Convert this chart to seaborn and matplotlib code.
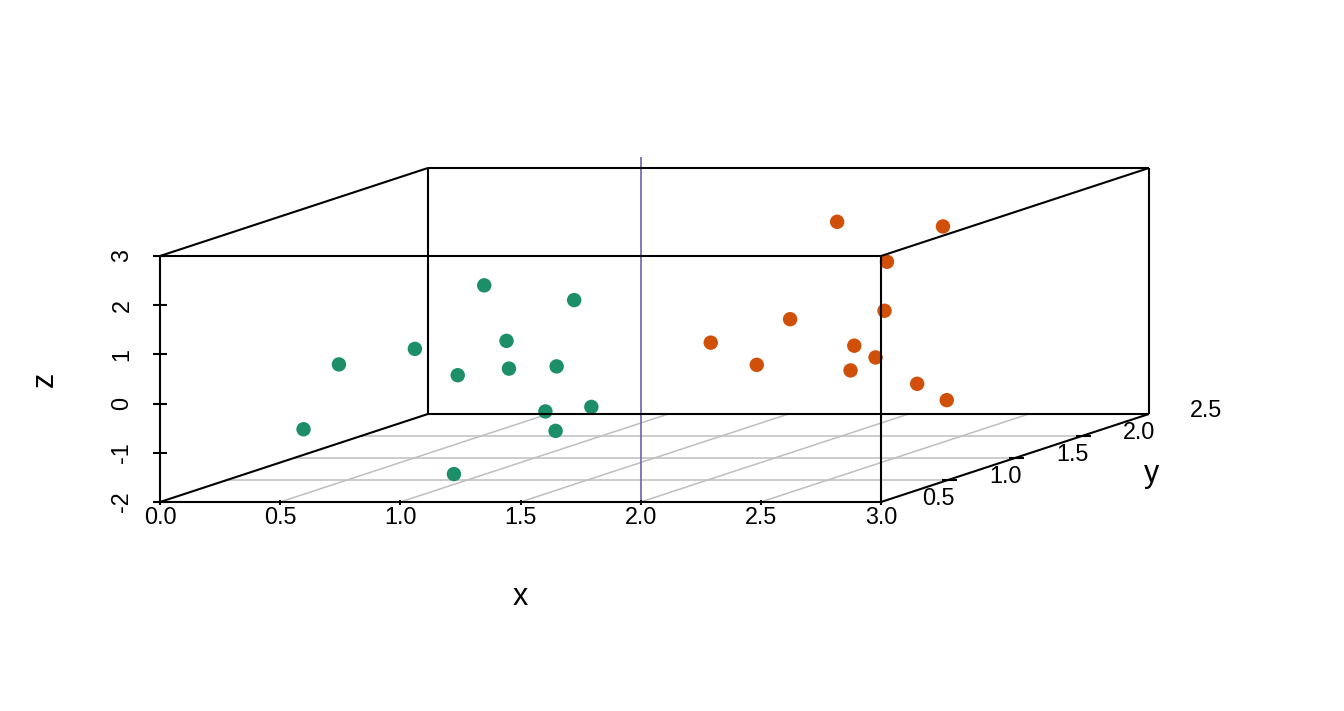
import matplotlib
matplotlib.use("Agg")
import matplotlib.pyplot as plt
import seaborn as sns
import pandas as pd

# data (3d coordinates)
x_green = [0.43, 0.41, 0.28, 0.68, 0.94, 0.96, 0.56, 1.00, 1.11, 1.26, 0.60, 1.07, 1.20]
y_green = [0.3, 0.6, 1.4, 1.2, 0.9, 0.5, 1.6, 0.4, 1.1, 0.7, 1.8, 1.3, 0.8]
z_green = [-0.79, 0.26, -0.14, 1.33, 0.47, 0.13, -0.72, -1.79, 1.12, 0.13, -1.77, -1.23, -1.27]

x_orange = [2.26, 2.31, 2.30, 2.68, 2.12, 2.18, 2.26, 2.61, 2.81, 2.26, 2.37, 2.27]
y_orange = [1.0, 1.7, 1.3, 0.6, 0.9, 0.2, 0.4, 0.5, 0.3, 1.1, 1.4, 1.8]
z_orange = [2.80, 2.08, 1.72, 1.35, 0.91, 1.06, 0.43, 0.73, 0.67, -0.31, -0.85, -1.54]

x_ticks = [0.0, 0.5, 1.0, 1.5, 2.0, 2.5, 3.0]
y_ticks = [0.5, 1.0, 1.5]
y_tick_labels = ["0.5", "1.0", "1.5", "2.0", "2.5"]
z_ticks = [-2, -1, 0, 1, 2, 3]
boundary_x = 2.0

xlim = (0, 3)
ylim = (0, 2)
zlim = (-2, 3)

# oblique projection like scatterplot3d (angle ~ 40 deg)
DX = 1.115   # horizontal shift of the full y range, in x units
DZ = 1.789   # vertical shift of the full y range, in z units


def proj(x, y, z):
    f = (y - ylim[0]) / (ylim[1] - ylim[0])
    return x + f * DX, z + f * DZ


sns.set_style("white")
plt.rcParams['font.family'] = ['Liberation Sans', 'DejaVu Sans']
plt.rcParams['text.color'] = 'black'

fig = plt.figure(figsize=(13.44, 7.11), dpi=100)
ax = fig.add_axes([160 / 1344, (711 - 502) / 711, 989 / 1344, 345 / 711])

grid_kw = dict(color='#BEBEBE', lw=1.1, zorder=1, solid_capstyle='butt')
box_kw = dict(color='black', lw=1.5, zorder=3, solid_capstyle='butt', clip_on=False)

# floor grid
for yv in y_ticks:
    p0 = proj(xlim[0], yv, zlim[0])
    p1 = proj(xlim[1], yv, zlim[0])
    ax.plot([p0[0], p1[0]], [p0[1], p1[1]], **grid_kw)
for xv in x_ticks[1:-1]:
    p0 = proj(xv, ylim[0], zlim[0])
    p1 = proj(xv, ylim[1], zlim[0])
    ax.plot([p0[0], p1[0]], [p0[1], p1[1]], **grid_kw)

# points
df = pd.DataFrame({
    'x': x_green + x_orange,
    'y': y_green + y_orange,
    'z': z_green + z_orange,
    'group': ['a'] * len(x_green) + ['b'] * len(x_orange),
})
df['px'], df['pz'] = proj(df['x'], df['y'], df['z'])
sns.scatterplot(data=df, x='px', y='pz', hue='group',
                palette={'a': '#1D8F68', 'b': '#D0500A'},
                s=108, linewidth=0, legend=False, ax=ax, zorder=2)
ax.set_xlim(xlim[0], xlim[1] + DX)
ax.set_ylim(zlim[0], zlim[0] + 345 / 49.2)
ax.axis('off')

# separating line
ax.axvline(proj(boundary_x, ylim[0], zlim[0])[0], color='#7570B3', lw=1.3, zorder=2)

# box
edges = [
    ((xlim[0], ylim[0], zlim[0]), (xlim[1], ylim[0], zlim[0])),
    ((xlim[0], ylim[0], zlim[1]), (xlim[1], ylim[0], zlim[1])),
    ((xlim[0], ylim[0], zlim[0]), (xlim[0], ylim[0], zlim[1])),
    ((xlim[1], ylim[0], zlim[0]), (xlim[1], ylim[0], zlim[1])),
    ((xlim[0], ylim[1], zlim[0]), (xlim[1], ylim[1], zlim[0])),
    ((xlim[0], ylim[1], zlim[1]), (xlim[1], ylim[1], zlim[1])),
    ((xlim[0], ylim[1], zlim[0]), (xlim[0], ylim[1], zlim[1])),
    ((xlim[1], ylim[1], zlim[0]), (xlim[1], ylim[1], zlim[1])),
    ((xlim[0], ylim[0], zlim[0]), (xlim[0], ylim[1], zlim[0])),
    ((xlim[1], ylim[0], zlim[0]), (xlim[1], ylim[1], zlim[0])),
    ((xlim[0], ylim[0], zlim[1]), (xlim[0], ylim[1], zlim[1])),
    ((xlim[1], ylim[0], zlim[1]), (xlim[1], ylim[1], zlim[1])),
]
for a, b in edges:
    pa, pb = proj(*a), proj(*b)
    ax.plot([pa[0], pb[0]], [pa[1], pb[1]], **box_kw)

px_x = 1 / 240.33   # one pixel in x units
px_z = 1 / 49.2     # one pixel in z units
tick_fs = 16.8
lab_fs = 22

# x axis ticks and labels
for xv in x_ticks:
    bx, bz = proj(xv, ylim[0], zlim[0])
    ax.plot([bx, bx], [bz + 2 * px_z, bz - 3 * px_z], **box_kw)
    ax.text(bx, bz - 16 * px_z, f"{xv:.1f}", ha='center', va='center', fontsize=tick_fs)
ax.text(proj(1.5, 0, zlim[0])[0], zlim[0] - 95 * px_z, "x", ha='center', va='center', fontsize=lab_fs)

# z axis ticks and labels
for zv in z_ticks:
    bx, bz = proj(xlim[0], ylim[0], zv)
    ax.plot([bx - 7 * px_x, bx + 7 * px_x], [bz, bz], **box_kw)
    ax.text(bx - 38 * px_x, bz, str(zv), ha='center', va='center', rotation=90, fontsize=tick_fs)
ax.text(xlim[0] - 115 * px_x, (zlim[0] + zlim[1]) / 2, "z", ha='center', va='center',
        rotation=90, fontsize=lab_fs)

# y axis ticks and labels
for yv in y_ticks:
    bx, bz = proj(xlim[1], yv, zlim[0])
    ax.plot([bx - 6 * px_x, bx + 9 * px_x], [bz, bz], **box_kw)
for i, lab in enumerate(y_tick_labels):
    yv = 0.5 * (i + 1)
    bx, bz = proj(xlim[1], yv, zlim[0])
    ax.text(bx - 10 * px_x, bz - 19 * px_z, lab, ha='center', va='center', fontsize=tick_fs)
ax.text(xlim[1] + DX + 3 * px_x, zlim[0] + 28 * px_z, "y", ha='center', va='center', fontsize=lab_fs)

fig.savefig("out.png", dpi=100)
